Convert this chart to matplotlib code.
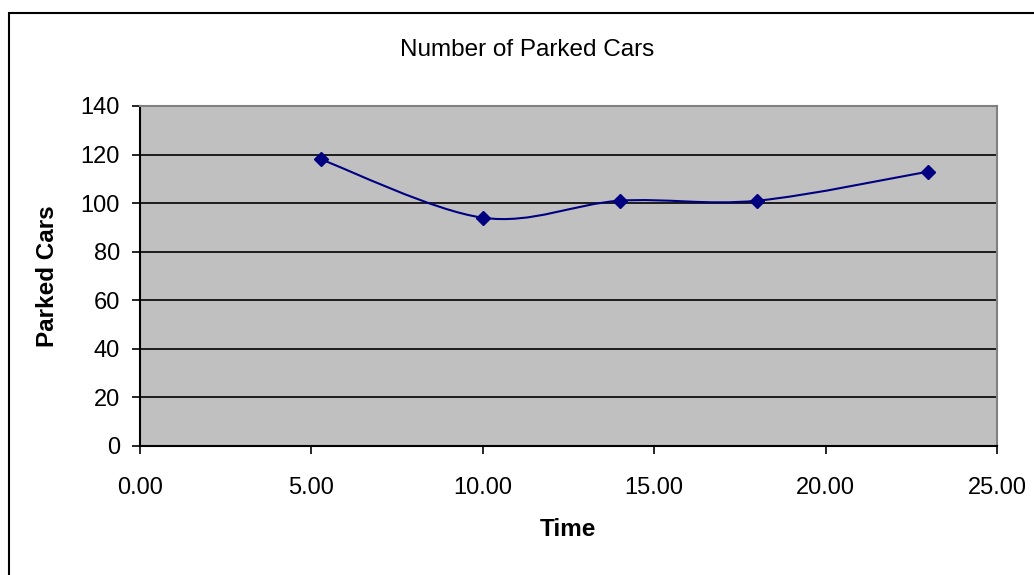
import matplotlib.pyplot as plt
import numpy as np
from matplotlib.path import Path
from matplotlib.patches import PathPatch, Rectangle

# Data
time = [5.28, 10.0, 14.0, 18.0, 23.0]
parked_cars = [118, 94, 101, 101, 113]

x_ticks = [0, 5, 10, 15, 20, 25]
y_ticks = [0, 20, 40, 60, 80, 100, 120, 140]

plt.rcParams['font.family'] = ['Liberation Sans', 'DejaVu Sans']

fig = plt.figure(figsize=(10.34, 5.75), dpi=100)
ax = fig.add_axes([140 / 1034, 1 - 446 / 575, 857 / 1034, 340 / 575])

# Outer chart border (Excel chart area)
fig.patches.append(Rectangle((9 / 1034, -0.1), 1.2, 1 - 13 / 575 + 0.1,
                             transform=fig.transFigure, fill=False,
                             edgecolor='black', linewidth=1.5))

ax.set_facecolor('#C0C0C0')
ax.set_xlim(0, 25)
ax.set_ylim(0, 140)

for y in y_ticks[1:-1]:
    ax.axhline(y, color='black', linewidth=1.2, zorder=1)

# smoothed line, Excel-like bezier through the points
pts = np.column_stack([time, parked_cars]).astype(float)
verts = [pts[0]]
codes = [Path.MOVETO]
n = len(pts)
for i in range(n - 1):
    p0 = pts[max(i - 1, 0)]
    p1 = pts[i]
    p2 = pts[i + 1]
    p3 = pts[min(i + 2, n - 1)]
    c1 = p1 + (p2 - p0) / 6
    c2 = p2 - (p3 - p1) / 6
    verts += [c1, c2, p2]
    codes += [Path.CURVE4] * 3
ax.add_patch(PathPatch(Path(verts, codes), fill=False, edgecolor='#000080',
                       linewidth=1.5, zorder=3))
ax.plot(time, parked_cars, linestyle='none', marker='D', markersize=7,
        color='#000080', zorder=4)

ax.set_xticks(x_ticks)
ax.set_xticklabels([f'{v:.2f}' for v in x_ticks])
ax.set_yticks(y_ticks)
ax.tick_params(axis='both', labelsize=17, length=6, width=1.2, direction='out',
               color='black')
ax.tick_params(axis='x', pad=16)
ax.tick_params(axis='y', pad=8.5)

for side in ['top', 'right']:
    ax.spines[side].set_color('#808080')
    ax.spines[side].set_linewidth(1.5)
for side in ['left', 'bottom']:
    ax.spines[side].set_color('black')
    ax.spines[side].set_linewidth(1.5)

fig.text(527 / 1034, 1 - 50 / 575, 'Number of Parked Cars', ha='center',
         va='center', fontsize=17.5)
fig.text(47 / 1034, 1 - 276 / 575, 'Parked Cars', ha='center', va='center',
         rotation=90, fontsize=17.5, fontweight='bold')
fig.text(568 / 1034, 1 - 530 / 575, 'Time', ha='center', va='center',
         fontsize=17.5, fontweight='bold')

fig.savefig('out.png', dpi=100)
